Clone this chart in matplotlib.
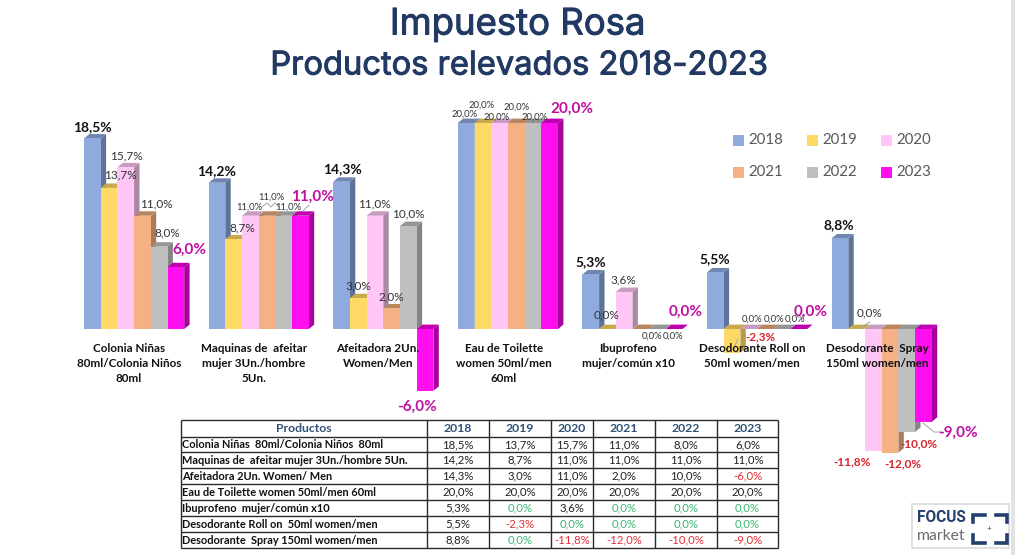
import matplotlib
matplotlib.use("Agg")
import matplotlib.pyplot as plt
import matplotlib.patheffects as pe
from matplotlib.patches import Rectangle

plt.rcParams["font.family"] = ["Lato", "DejaVu Sans"]

years = ["2018", "2019", "2020", "2021", "2022", "2023"]
chart_names = [
    "Colonia Niñas\n80ml/Colonia Niños\n80ml",
    "Maquinas de  afeitar\nmujer 3Un./hombre\n5Un.",
    "Afeitadora 2Un.\nWomen/Men",
    "Eau de Toilette\nwomen 50ml/men\n60ml",
    "Ibuprofeno\nmujer/común x10",
    "Desodorante Roll on\n50ml women/men",
    "Desodorante  Spray\n150ml women/men",
]
table_names = [
    "Colonia Niñas  80ml/Colonia Niños  80ml",
    "Maquinas de  afeitar mujer 3Un./hombre 5Un.",
    "Afeitadora 2Un. Women/ Men",
    "Eau de Toilette women 50ml/men 60ml",
    "Ibuprofeno  mujer/común x10",
    "Desodorante Roll on  50ml women/men",
    "Desodorante  Spray 150ml women/men",
]
values = [
    [18.5, 13.7, 15.7, 11.0, 8.0, 6.0],
    [14.2, 8.7, 11.0, 11.0, 11.0, 11.0],
    [14.3, 3.0, 11.0, 2.0, 10.0, -6.0],
    [20.0, 20.0, 20.0, 20.0, 20.0, 20.0],
    [5.3, 0.0, 3.6, 0.0, 0.0, 0.0],
    [5.5, -2.3, 0.0, 0.0, 0.0, 0.0],
    [8.8, 0.0, -11.8, -12.0, -10.0, -9.0],
]

colors = ["#8faadc", "#ffd966", "#ffc6f6", "#f4b183", "#bfbfbf", "#ff0fef"]
sides = ["#5f7398", "#b89c45", "#ab87a5", "#a97b5a", "#858585", "#a8009c"]
tops = ["#6f86b0", "#c9a94c", "#c79cc0", "#b9855f", "#959595", "#c000b0"]

# label centres in pixels, same layout as values
label_xy = [
    [(92, 127), (120, 175), (126, 156), (156, 204), (167, 233), (189, 250)],
    [(217, 171), (242, 228), (249, 207), (271, 197), (288, 207), (312, 197)],
    [(342, 169), (358, 286), (374, 204), (391, 297), (408, 214), (417, 407)],
    [(465, 114), (482, 105), (497, 117), (517, 107), (535, 117), (572, 109)],
    [(591, 262), (607, 315), (623, 280), (652, 336), (673, 336), (686, 312)],
    [(715, 259), (761, 337), (752, 319), (774, 319), (795, 319), (811, 312)],
    [(839, 225), (870, 313), (852, 462), (903, 464), (919, 444), (958, 433)],
]
small_labels = {(1, 2), (1, 3), (1, 4), (3, 0), (3, 1), (3, 2), (3, 3), (3, 4),
                (4, 3), (4, 4), (5, 2), (5, 3), (5, 4)}
chart_name_x = [129, 254, 378, 504, 628, 752, 877]
leaders = [
    [(262, 207), (267, 203), (271, 207), (275, 203), (279, 207)],
    [(303, 211), (309, 205)],
    [(870, 322), (860, 328)],
    [(923, 423), (934, 432), (942, 432)],
    [(738, 339), (733, 350)],
]

baseline_px = 329
px_per_pct = 10.3
group_px = 124.6
bar_px = 16.7
first_px = 84
depth_x = 5.4
depth_y = 4.4

fig = plt.figure(figsize=(10.15, 5.55), dpi=100, facecolor="white")

# bars live on percent / group units, the axes fill the whole figure
ax = fig.add_axes([0, 0, 1, 1])
ax.set_xlim(-first_px / group_px, (1015 - first_px) / group_px)
ax.set_ylim((baseline_px - 555) / px_per_pct, baseline_px / px_per_pct)
ax.axis("off")
w = bar_px / group_px
dx = depth_x / group_px
dy = depth_y / px_per_pct

for g, row in enumerate(values):
    for j, v in enumerate(row):
        x0 = g + j * w
        x1 = x0 + w
        top = max(v, 0)
        bottom = min(v, 0)
        ax.fill([x1, x1 + dx, x1 + dx, x1], [bottom, bottom + dy, top + dy, top],
                color=sides[j], lw=0, zorder=2 + j)
        ax.fill([x0, x0 + dx, x1 + dx, x1], [top, top + dy, top + dy, top],
                color=tops[j], lw=0, zorder=2 + j)
        if v != 0:
            ax.bar(x0, v, width=w, align="edge", color=colors[j], lw=0, zorder=2 + j)

# everything else is placed in pixels on a second transparent axes
pg = fig.add_axes([0, 0, 1, 1], facecolor="none")
pg.set_xlim(0, 1015)
pg.set_ylim(555, 0)
pg.axis("off")

pg.add_patch(Rectangle((1011, 0), 4, 555, color="#e3e3e3", lw=0))

navy = "#223a63"
heavier = [pe.withStroke(linewidth=0.7, foreground=navy)]
pg.text(518, 25, "Impuesto Rosa", ha="center", va="center", fontsize=26.3,
        color=navy, family="Inter", path_effects=heavier)
pg.text(519, 66, "Productos relevados 2018-2023", ha="center", va="center", fontsize=23.5,
        color=navy, family="Inter", path_effects=heavier)

for pts in leaders:
    pg.plot([p[0] for p in pts], [p[1] for p in pts], color="#a6a6a6", lw=0.7, zorder=6)

for g, row in enumerate(values):
    for j, v in enumerate(row):
        s = f"{v:.1f}%".replace(".", ",")
        x, y = label_xy[g][j]
        if (g, j) in small_labels:
            style = dict(fontsize=6.8, color="#333333")
        elif j == 0:
            style = dict(fontsize=10, color="#111111", fontweight="bold")
        elif j == 5:
            style = dict(fontsize=11, color="#c0109f", fontweight="bold")
        elif v < 0:
            style = dict(fontsize=8.5, color="#d8222a", fontweight="bold")
        else:
            style = dict(fontsize=8.5, color="#333333")
        pg.text(x, y, s, ha="center", va="center", zorder=20, **style)

for name, x in zip(chart_names, chart_name_x):
    for k, line in enumerate(name.split("\n")):
        pg.text(x, 348 + k * 15.5, line, ha="center", va="center", fontsize=8.4,
                color="#111111", fontweight="bold", zorder=20)

# legend
legend_x = [733, 807, 881]
legend_y = [140, 172]
for k, (year, c) in enumerate(zip(years, colors)):
    x = legend_x[k % 3]
    y = legend_y[k // 3]
    pg.add_patch(Rectangle((x, y - 5.5), 11, 11, color=c, lw=0))
    pg.text(x + 15, y + 0.5, year, ha="left", va="center", fontsize=10.8, color="#595959")

# table
col_edges = [181, 427, 489, 551, 593, 655, 717, 778]
row_edges = [420, 437, 452, 468, 484, 500, 516, 532, 548]
pg.hlines(row_edges, col_edges[0], col_edges[-1], color="#2b2b2b", lw=1)
pg.vlines(col_edges, row_edges[0], row_edges[-1], color="#2b2b2b", lw=1)
head = "#2f5276"
pg.text((col_edges[0] + col_edges[1]) / 2, 428.5, "Productos", ha="center", va="center",
        fontsize=8.8, color=head, fontweight="bold")
for k, year in enumerate(years):
    pg.text((col_edges[k + 1] + col_edges[k + 2]) / 2, 428.5, year, ha="center", va="center",
            fontsize=8.8, color=head, fontweight="bold")
for r, (name, row) in enumerate(zip(table_names, values)):
    yc = (row_edges[r + 1] + row_edges[r + 2]) / 2
    pg.text(182, yc, name, ha="left", va="center", fontsize=7.9, color="#111111", fontweight="bold")
    for k, v in enumerate(row):
        c = "#222222"
        if v < 0:
            c = "#e0303a"
        elif v == 0:
            c = "#3cb371"
        pg.text((col_edges[k + 1] + col_edges[k + 2]) / 2, yc, f"{v:.1f}%".replace(".", ","),
                ha="center", va="center", fontsize=8.2, color=c)

# logo
pg.add_patch(Rectangle((912, 504), 97, 44, facecolor="white", edgecolor="#d9d9d9", lw=1.2, zorder=8))
pg.text(917, 518, "FOCUS", ha="left", va="center", fontsize=11.2, color="#24406e",
        fontweight="bold", zorder=9, family="Roboto")
pg.text(917, 536, "market", ha="left", va="center", fontsize=11.3, color="#6b6b6b", zorder=9)
for xs, ys in [
    ([985, 973, 973], [514.5, 514.5, 522]),
    ([996, 1007, 1007], [514.5, 514.5, 522]),
    ([985, 973, 973], [543, 543, 535]),
    ([996, 1007, 1007], [543, 543, 535]),
]:
    pg.plot(xs, ys, color="#24406e", lw=2.6, solid_joinstyle="miter", zorder=9)
pg.text(989, 529, "+", ha="center", va="center", fontsize=6, color="#444444", zorder=9)

fig.savefig("out.png", dpi=100, facecolor="white")
